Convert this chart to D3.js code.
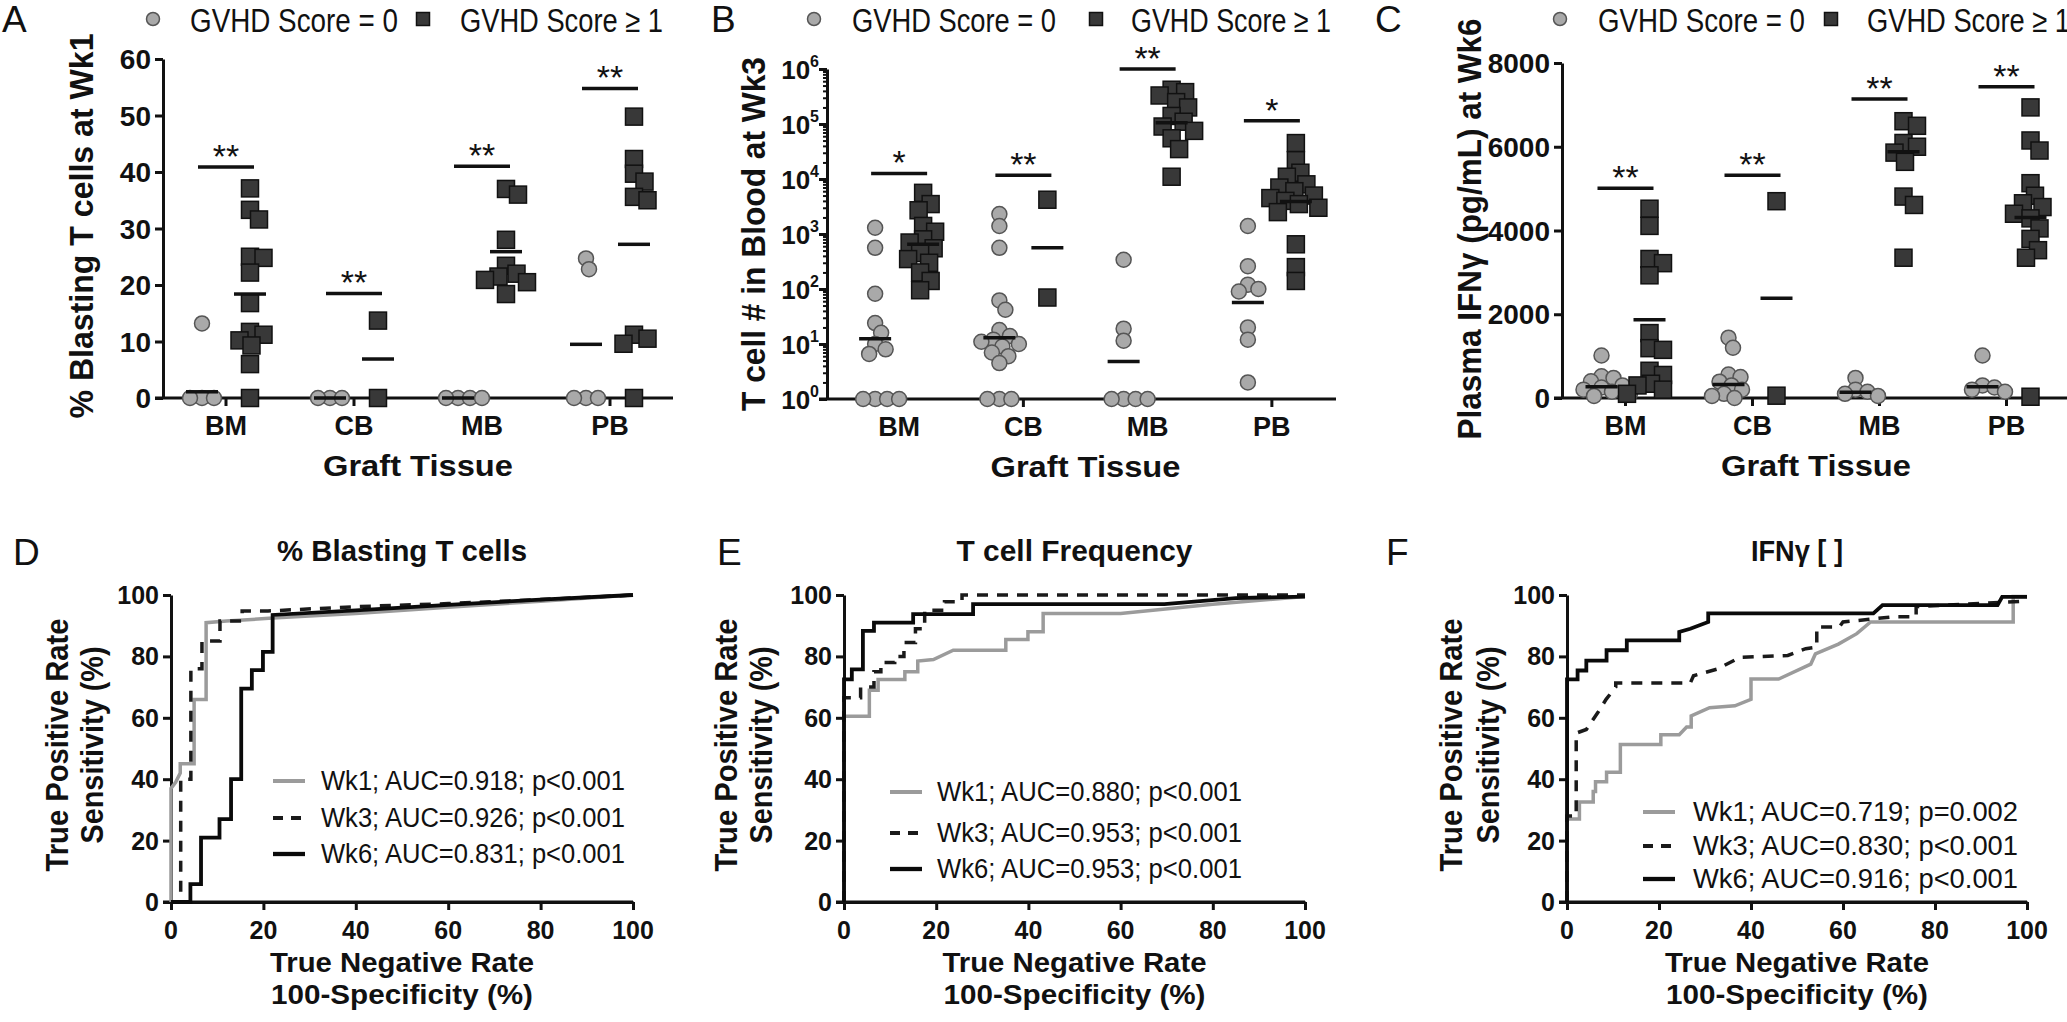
<!DOCTYPE html>
<html><head><meta charset="utf-8">
<script src="https://cdn.jsdelivr.net/npm/d3@7"></script>
<style>
body{margin:0;background:#fff;}
svg{display:block;}
text{font-family:"Liberation Sans",Arial,sans-serif;fill:#111;}
.narrow{font-family:"Liberation Sans Narrow","Arial Narrow","Liberation Sans",Arial,sans-serif;}
</style></head><body>
<svg id="c" width="2067" height="1022"></svg>
<script>
// ---------- DATA ----------
const categories = ["BM","CB","MB","PB"];
const seriesNames = ["GVHD Score = 0","GVHD Score \u2265 1"];

// Panel A: % blasting T cells at Wk1
const blastNeg = [[13.2,0,0,0],[0,0,0],[0,0,0,0],[24.7,22.8,0,0,0]];
const blastPos = [[37.1,33.3,31.6,25,24.8,22.2,16.8,11.7,11.2,10.2,9.3,6,0],[13.7,0],[37,36,28,23.4,22,21.5,20.9,20.5,18.4],[49.8,42.3,39.7,38.3,35.6,35,11.2,10.5,9.6,0]];
const blastNegMean = [1.1,0,0,9.5];
const blastPosMean = [18.4,6.9,25.9,27.2];
const blastSig = [40.9,18.5,41,54.8];
const blastSigLabel = ["**","**","**","**"];
const blastTicks = [0,10,20,30,40,50,60];

// Panel B: T cell # in blood at Wk3
const countNeg = [[1300,560,82,24,16,10,8,6.6,1,1,1,1],[2300,1400,560,62,42,18,14,12,11,10,9,7,6,4.5,1,1,1],[340,19,11.5,1,1,1,1],[1400,260,120,100,90,20,12,2]];
const countPos = [[5600,3500,2700,1400,1100,800,700,550,450,350,300,200,140,95],[4200,70],[420000,380000,330000,250000,200000,140000,110000,90000,75000,55000,35000,11000],[45000,22000,13000,11000,8000,7000,6000,5000,4500,4000,3500,3000,2500,650,250,140]];
const countNegMean = [12.4,13,4.8,57];
const countPosMean = [650,560,105000,3900];
const countSig = [12600,11700,1000000,115000];
const countSigLabel = ["*","**","**","*"];
const countTicks = [1,10,100,1000,10000,100000,1000000];

// Panel C: plasma IFNγ at Wk6
const ifnNeg = [[1015,520,480,400,300,250,200,150,100,50],[1440,1200,560,500,390,300,200,100,50,0],[480,200,150,100,50],[1015,300,250,200,150]];
const ifnPos = [[4520,4110,3320,3220,2930,1550,1190,1150,650,550,340,300,200,100],[4700,55],[6610,6500,6090,6000,5860,5640,4810,4610,3350],[6940,6150,5910,5130,4830,4650,4560,4400,4290,4050,3800,3530,3350,30]];
const ifnNegMean = [270,320,135,270];
const ifnPosMean = [1870,2380,5880,4310];
const ifnSig = [5010,5320,7140,7435];
const ifnSigLabel = ["**","**","**","**"];
const ifnTicks = [0,2000,4000,6000,8000];

// ROC curves [100-specificity, sensitivity]
const rocTicks = [0,20,40,60,80,100];
const rocBlastWk1 = [[0,0],[0,37],[1,39],[2,42],[2,45],[5,45],[5,66],[7.6,66],[7.6,91],[12,91.5],[22,92.5],[40,94],[60,96],[80,98],[100,100]];
const rocBlastWk3 = [[0,0],[2.1,0],[2.1,40],[4.3,40],[4.3,76],[6.7,76],[6.7,85],[10.6,85],[10.6,91.5],[15.4,91.5],[15.4,94.8],[21,94.8],[40,96.2],[60,97.2],[80,98.5],[100,100]];
const rocBlastWk6 = [[0,0],[4.2,0],[4.2,5.8],[6.5,5.8],[6.5,21],[10.5,21],[10.5,27],[13,27],[13,40],[15.2,40],[15.2,69.5],[17.5,69.5],[17.5,75.5],[19.9,75.5],[19.9,81.5],[22,81.5],[22,93.5],[40,95],[60,96.8],[80,98.5],[100,100]];
const rocFreqWk1 = [[0,0],[0,60.5],[5.5,60.5],[5.5,69],[7.4,69],[7.4,72.5],[13.2,72.5],[13.2,75],[16,75],[16,78.5],[19.4,79],[23.7,82],[35.1,82],[35.1,85.5],[39.9,85.5],[39.9,88],[43.2,88],[43.2,94],[60,94],[80,97],[100,99.5]];
const rocFreqWk3 = [[0,0],[0,66.5],[3.6,66.5],[3.6,70],[6.5,70],[6.5,75],[8,75],[8,78],[11,78],[11,80],[13,80],[13,84.5],[15.5,84.5],[15.5,89],[17.5,89],[17.5,95],[21.8,95],[21.8,97.8],[25.6,97.8],[25.6,100],[100,100]];
const rocFreqWk6 = [[0,0],[0,72.5],[1.7,72.5],[1.7,75.8],[4.1,75.8],[4.1,88.3],[6.5,88.3],[6.5,91],[15,91],[15,93.8],[28,93.8],[28,97],[69.5,97],[85,99],[100,99.5]];
const rocIfnWk1 = [[0,0],[0,27],[2.7,27],[2.7,32.6],[5.7,32.6],[5.7,36],[6.2,36],[6.2,39.2],[8.6,39.2],[8.6,42.3],[11.6,42.3],[11.6,51.3],[20.4,51.3],[20.4,54.5],[24.4,54.5],[26,57],[27,57],[27,60.6],[31,63.3],[36.5,63.9],[40,66],[40,72.6],[46,72.6],[53,77.5],[54,80.8],[59,84],[63,87.4],[66,91.2],[97,91.2],[97,99.5],[100,99.5]];
const rocIfnWk3 = [[0,0],[0,28],[2,28],[2,55],[4.2,56.2],[6.7,61.7],[8.5,66],[10.6,70],[10.6,71.3],[26.8,71.3],[27.5,73.7],[32.7,75.9],[37.6,79.7],[48,80.3],[51.9,82.5],[54.3,83],[54.3,89.6],[59.2,89.6],[60,91.2],[71,92.9],[75.9,92.9],[75.9,96.2],[94.6,97.6],[100,98]];
const rocIfnWk6 = [[0,0],[0,72.5],[2.3,72.5],[2.3,75.4],[4.2,75.4],[4.2,78.6],[8.6,78.6],[8.6,82],[13,82],[13,85.2],[24.4,85.2],[24.4,88],[26.8,89],[30.7,91.2],[30.7,94],[66.6,94],[68.6,96.7],[93.6,96.7],[94.6,99.4],[100,99.4]];
const rocBlastLabels = ["Wk1; AUC=0.918; p<0.001","Wk3; AUC=0.926; p<0.001","Wk6; AUC=0.831; p<0.001"];
const rocFreqLabels = ["Wk1; AUC=0.880; p<0.001","Wk3; AUC=0.953; p<0.001","Wk6; AUC=0.953; p<0.001"];
const rocIfnLabels = ["Wk1; AUC=0.719; p=0.002","Wk3; AUC=0.830; p<0.001","Wk6; AUC=0.916; p<0.001"];

// ---------- DRAWING ----------
const svg = d3.select('#c');
const INK = '#111';
const CIRC_FILL = '#a9a9a9', CIRC_STROKE = '#555';
const SQ_FILL = '#383838', SQ_STROKE = '#111';

function swarm(vals, ys, minD){
  const placed = [];
  return vals.map(v=>{
    const py = ys(v);
    let best = 0;
    for(let i=0;i<120;i++){
      const dx = i===0 ? 0 : (i%2 ? 1 : -1)*Math.ceil(i/2)*1.5;
      if(placed.every(p=>Math.hypot(p[0]-dx,p[1]-py)>=minD)){best=dx;break;}
    }
    placed.push([best,py]);
    return best;
  });
}

function styleAxis(sel){
  sel.selectAll('path').attr('stroke',INK).attr('stroke-width',3);
  sel.selectAll('line').attr('stroke',INK).attr('stroke-width',3);
  sel.selectAll('text').remove();
}

function scatterPanel(o){
  const g = svg.append('g');
  const y = o.y;
  const x = d3.scaleBand().domain(categories).range([o.bandL,o.bandR]);
  const base = y(o.base);
  // letter
  g.append('text').attr('x',o.letterX).attr('y',32).attr('font-size',37).text(o.letter);
  // legend
  g.append('circle').attr('cx',o.legend[0]).attr('cy',19).attr('r',6.5).attr('fill',CIRC_FILL).attr('stroke',CIRC_STROKE).attr('stroke-width',1.5);
  g.append('text').attr('class','narrow').attr('x',o.legend[1]).attr('y',32).attr('font-size',33)
    .attr('textLength',o.legLen[0]).attr('lengthAdjust','spacingAndGlyphs').text(seriesNames[0]);
  g.append('rect').attr('x',o.legend[2]-6.5).attr('y',12.5).attr('width',13).attr('height',13).attr('fill',SQ_FILL).attr('stroke',SQ_STROKE).attr('stroke-width',1.5);
  g.append('text').attr('class','narrow').attr('x',o.legend[3]).attr('y',32).attr('font-size',33)
    .attr('textLength',o.legLen[1]).attr('lengthAdjust','spacingAndGlyphs').text(seriesNames[1]);
  // y axis
  const ya = g.append('g').attr('transform',`translate(${o.axisX},0)`)
    .call(d3.axisLeft(y).tickValues(o.ticks).tickSize(8).tickSizeOuter(0));
  styleAxis(ya);
  if(o.minor){
    const ym = g.append('g').attr('transform',`translate(${o.axisX},0)`)
      .call(d3.axisLeft(y).tickValues(o.minor).tickSize(4).tickSizeOuter(0));
    ym.selectAll('path').remove(); ym.selectAll('text').remove();
    ym.selectAll('line').attr('stroke',INK).attr('stroke-width',2);
  }
  // y tick labels
  o.ticks.forEach(t=>{
    const tx = g.append('text').attr('x',o.axisX-12).attr('y',y(t)+10).attr('text-anchor','end')
      .attr('font-size',28).attr('font-weight','bold');
    if(o.log){
      tx.attr('x',o.axisX-8).attr('font-size',26);
      tx.append('tspan').text('10');
      tx.append('tspan').attr('font-size',16).attr('dy',-12).text(Math.round(Math.log10(t)));
    } else tx.text(t);
  });
  // x axis
  g.append('line').attr('x1',o.axisX-8).attr('x2',o.axisEnd).attr('y1',base).attr('y2',base).attr('stroke',INK).attr('stroke-width',3);
  const xa = g.append('g').attr('transform',`translate(0,${base})`).call(d3.axisBottom(x).tickSize(8).tickSizeOuter(0));
  styleAxis(xa); xa.select('path').remove();
  categories.forEach(c=>{
    g.append('text').attr('x',x(c)+x.bandwidth()/2).attr('y',base+37).attr('text-anchor','middle')
      .attr('font-size',27).attr('font-weight','bold').text(c);
  });
  g.append('text').attr('class','narrow').attr('x',(o.bandL+o.bandR)/2).attr('y',base+78).attr('text-anchor','middle')
    .attr('font-size',29).attr('font-weight','bold').attr('textLength',190).attr('lengthAdjust','spacingAndGlyphs').text('Graft Tissue');
  // points
  categories.forEach((c,i)=>{
    const cx = x(c)+x.bandwidth()/2;
    const nx = cx-24, px = cx+24;
    const dn = swarm(o.neg[i], y, 11);
    o.neg[i].forEach((v,j)=>{
      g.append('circle').attr('cx',nx+dn[j]).attr('cy',y(v)).attr('r',7.5)
        .attr('fill',CIRC_FILL).attr('stroke',CIRC_STROKE).attr('stroke-width',1.5);
    });
    const dp = swarm(o.pos[i], y, 13);
    o.pos[i].forEach((v,j)=>{
      g.append('rect').attr('x',px+dp[j]-8.5).attr('y',y(v)-8.5).attr('width',17).attr('height',17)
        .attr('fill',SQ_FILL).attr('stroke',SQ_STROKE).attr('stroke-width',1.5);
    });
    [[nx,o.negMean[i]],[px,o.posMean[i]]].forEach(([mx,m])=>{
      g.append('line').attr('x1',mx-16).attr('x2',mx+16).attr('y1',y(m)).attr('y2',y(m)).attr('stroke',INK).attr('stroke-width',3.5);
    });
    const sy = y(o.sig[i]);
    g.append('line').attr('x1',cx-28).attr('x2',cx+28).attr('y1',sy).attr('y2',sy).attr('stroke',INK).attr('stroke-width',3.5);
    g.append('text').attr('x',cx).attr('y',sy+1).attr('text-anchor','middle').attr('font-size',34).text(o.sigLab[i]);
  });
  // y title
  g.append('text').attr('class','narrow').attr('transform',`translate(${o.titleX+12},${o.titleY}) rotate(-90)`)
    .attr('text-anchor','middle').attr('font-size',34).attr('font-weight','bold')
    .attr('textLength',o.titleLen).attr('lengthAdjust','spacingAndGlyphs').text(o.title);
}

const minorTicks = [];
for(let d=0; d<6; d++) for(let m=2; m<10; m++) minorTicks.push(m*Math.pow(10,d));

scatterPanel({letter:'A', letterX:2, axisX:163, bandL:162, bandR:674, axisEnd:673,
  legend:[153,190,423,460], legLen:[208,203], title:'% Blasting T cells at Wk1', titleX:81, titleY:226, titleLen:385,
  y:d3.scaleLinear().domain([0,60]).range([398,59]), base:0, ticks:blastTicks,
  neg:blastNeg, pos:blastPos, negMean:blastNegMean, posMean:blastPosMean, sig:blastSig, sigLab:blastSigLabel});
scatterPanel({letter:'B', letterX:711, axisX:827, bandL:837, bandR:1334, axisEnd:1336,
  legend:[814,852,1096,1131], legLen:[204,200], title:'T cell # in Blood at Wk3', titleX:753, titleY:234, titleLen:354,
  y:d3.scaleLog().domain([1,1e6]).range([399,69]), base:1, ticks:countTicks, log:true, minor:minorTicks,
  neg:countNeg, pos:countPos, negMean:countNegMean, posMean:countPosMean, sig:countSig, sigLab:countSigLabel});
scatterPanel({letter:'C', letterX:1375, axisX:1562, bandL:1562, bandR:2070, axisEnd:2080,
  legend:[1560,1598,1831,1867], legLen:[207,203], title:'Plasma IFN\u03B3 (pg/mL) at Wk6', titleX:1469, titleY:229, titleLen:421,
  y:d3.scaleLinear().domain([0,8000]).range([398,63]), base:0, ticks:ifnTicks,
  neg:ifnNeg, pos:ifnPos, negMean:ifnNegMean, posMean:ifnPosMean, sig:ifnSig, sigLab:ifnSigLabel});

// ROC panels
const rocStyles = [
  {stroke:'#9b9b9b', width:3.5, dash:null},
  {stroke:'#1a1a1a', width:3.5, dash:'11,9'},
  {stroke:'#0a0a0a', width:3.8, dash:null}
];
function rocPanel(o){
  const g = svg.append('g');
  const x = d3.scaleLinear().domain([0,100]).range([o.x0,o.x1]);
  const y = d3.scaleLinear().domain([0,100]).range([902,595]);
  g.append('text').attr('x',o.letterX).attr('y',565).attr('font-size',37).text(o.letter);
  g.append('text').attr('class','narrow').attr('x',(o.x0+o.x1)/2).attr('y',561).attr('text-anchor','middle')
    .attr('font-size',29).attr('font-weight','bold').attr('textLength',o.titleLen).attr('lengthAdjust','spacingAndGlyphs').text(o.title);
  // axes
  const ya = g.append('g').attr('transform',`translate(${o.x0},0)`).call(d3.axisLeft(y).tickValues(rocTicks).tickSize(8).tickSizeOuter(0));
  styleAxis(ya);
  const xa = g.append('g').attr('transform',`translate(0,902)`).call(d3.axisBottom(x).tickValues(rocTicks).tickSize(8).tickSizeOuter(0));
  styleAxis(xa);
  g.append('line').attr('x1',o.x0-8).attr('x2',o.x1).attr('y1',902).attr('y2',902).attr('stroke',INK).attr('stroke-width',3);
  rocTicks.forEach(t=>{
    g.append('text').attr('x',o.x0-12).attr('y',y(t)+9).attr('text-anchor','end').attr('font-size',25).attr('font-weight','bold').text(t);
    g.append('text').attr('x',x(t)).attr('y',939).attr('text-anchor','middle').attr('font-size',25).attr('font-weight','bold').text(t);
  });
  // curves
  const line = d3.line().x(d=>x(d[0])).y(d=>y(d[1]));
  o.series.forEach((s,i)=>{
    const st = rocStyles[i];
    g.append('path').datum(s).attr('d',line).attr('fill','none').attr('stroke',st.stroke).attr('stroke-width',st.width)
      .attr('stroke-dasharray',st.dash).attr('stroke-linejoin','miter');
  });
  // legend
  o.labels.forEach((lab,i)=>{
    const st = rocStyles[i];
    const ly = o.legendY[i];
    g.append('line').attr('x1',o.legLine).attr('x2',o.legLine+32).attr('y1',ly).attr('y2',ly)
      .attr('stroke',st.stroke).attr('stroke-width',st.width+0.5).attr('stroke-dasharray',st.dash ? '10,8' : null);
    g.append('text').attr('class','narrow').attr('x',o.legText).attr('y',ly+9).attr('font-size',27)
      .attr('textLength',o.legLen).attr('lengthAdjust','spacingAndGlyphs').text(lab);
  });
  // axis titles
  [['True Positive Rate',o.yT1,253],['Sensitivity (%)',o.yT2,197]].forEach(([t,cx,len])=>{
    g.append('text').attr('class','narrow').attr('transform',`translate(${cx+11},745) rotate(-90)`).attr('text-anchor','middle')
      .attr('font-size',31).attr('font-weight','bold').attr('textLength',len).attr('lengthAdjust','spacingAndGlyphs').text(t);
  });
  [['True Negative Rate',972,264],['100-Specificity (%)',1004,262]].forEach(([t,by,len])=>{
    g.append('text').attr('class','narrow').attr('x',(o.x0+o.x1)/2).attr('y',by).attr('text-anchor','middle')
      .attr('font-size',27).attr('font-weight','bold').attr('textLength',len).attr('lengthAdjust','spacingAndGlyphs').text(t);
  });
}

rocPanel({letter:'D', letterX:13, x0:171, x1:633, title:'% Blasting T cells', titleLen:250,
  series:[rocBlastWk1,rocBlastWk3,rocBlastWk6], labels:rocBlastLabels,
  legLine:273, legText:321, legendY:[781,818,854], legLen:304, yT1:57, yT2:92});
rocPanel({letter:'E', letterX:717, x0:844, x1:1305, title:'T cell Frequency', titleLen:236,
  series:[rocFreqWk1,rocFreqWk3,rocFreqWk6], labels:rocFreqLabels,
  legLine:890, legText:937, legendY:[792,833,869], legLen:305, yT1:726, yT2:761});
rocPanel({letter:'F', letterX:1386, x0:1567, x1:2027, title:'IFN\u03B3 [ ]', titleLen:92,
  series:[rocIfnWk1,rocIfnWk3,rocIfnWk6], labels:rocIfnLabels,
  legLine:1643, legText:1693, legendY:[812,846,879], legLen:325, yT1:1451, yT2:1488});
</script>
</body></html>
